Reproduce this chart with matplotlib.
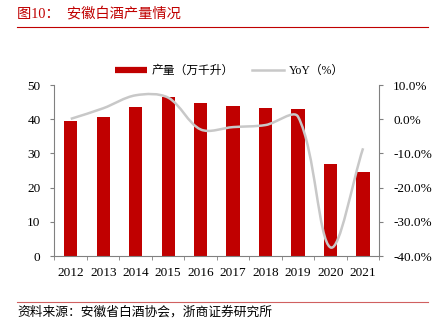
import matplotlib
matplotlib.use("Agg")
import matplotlib.pyplot as plt
from matplotlib.lines import Line2D
from matplotlib.path import Path
from matplotlib.patches import PathPatch
import numpy as np

years = ["2012", "2013", "2014", "2015", "2016", "2017", "2018", "2019", "2020", "2021"]
output = [39.5, 40.7, 43.6, 46.4, 44.8, 43.9, 43.2, 43.1, 26.9, 24.6]
yoy = [0.1, 3.2, 7.0, 6.3, -3.0, -2.3, -1.7, 0.7, -37.5, -8.5]

RED = "#C00000"
GRAY_LINE = "#C8C8C8"
SPINE = "#808080"
FONT = ["Liberation Serif", "Noto Sans CJK SC"]

plt.rcParams["font.family"] = FONT

fig = plt.figure(figsize=(4.37, 3.33), dpi=100)
ax = fig.add_axes([0.1247, 0.2312, 0.7433, 0.5135])
ax2 = ax.twinx()

x = np.arange(len(years))
ax.bar(x, output, width=0.41, color=RED, zorder=2)
ax.set_xlim(-0.5, len(years) - 0.5)
ax.set_ylim(0, 50)
ax.set_yticks(range(0, 51, 10))
ax.set_xticks(x)
ax.set_xticklabels(years)
ax.set_xticks(np.arange(-0.5, len(years), 1), minor=True)
ax.tick_params(axis="x", which="major", length=0, pad=8, labelsize=9.5)
ax.tick_params(axis="x", which="minor", length=3, color=SPINE, direction="out")
ax.tick_params(axis="y", length=3, color=SPINE, direction="out", pad=7, labelsize=9.5)
ax2.set_ylim(-40, 10)


def smooth_path(xs, ys, sx, sy, tension=1 / 3):
    """Excel-like smoothed line: Bezier control points scaled by segment lengths."""
    p = np.column_stack([xs, ys]).astype(float)
    scale = np.array([sx, sy])
    n = len(p)
    verts, codes = [p[0]], [Path.MOVETO]
    for i in range(n - 1):
        p0, p1, p2, p3 = p[max(i - 1, 0)], p[i], p[i + 1], p[min(i + 2, n - 1)]
        d01 = np.linalg.norm((p1 - p0) * scale)
        d12 = np.linalg.norm((p2 - p1) * scale)
        d23 = np.linalg.norm((p3 - p2) * scale)
        f1 = tension * d12 / (d01 + d12) if d01 + d12 > 0 else 0
        f2 = tension * d12 / (d12 + d23) if d12 + d23 > 0 else 0
        verts += [p1 + (p2 - p0) * f1, p2 - (p3 - p1) * f2, p2]
        codes += [Path.CURVE4] * 3
    return Path(verts, codes)


# pixels per data unit, used only to weight the smoothing like the original tool
px_x = 324.8 / len(years)
px_y = 171 / 50
ax2.add_patch(PathPatch(smooth_path(x, yoy, px_x, px_y), facecolor="none",
                        edgecolor=GRAY_LINE, linewidth=1.8, zorder=3))
ax2.set_yticks(range(-40, 11, 10))
ax2.set_yticklabels([f"{v:.1f}%" for v in range(-40, 11, 10)])
ax2.tick_params(axis="y", length=3, color=SPINE, direction="out", pad=7, labelsize=9.5)

for a in (ax, ax2):
    a.spines["top"].set_visible(False)
    for s in ("left", "right", "bottom"):
        a.spines[s].set_color(SPINE)
        a.spines[s].set_linewidth(0.8)
ax.spines["right"].set_visible(False)
ax2.spines["left"].set_visible(False)
ax2.spines["bottom"].set_visible(False)

handles = [Line2D([], [], color=RED, linewidth=4.5, solid_capstyle="butt"),
           Line2D([], [], color=GRAY_LINE, linewidth=1.8)]
fig.legend(handles, ["产量（万千升）", "YoY（%）"], loc="center",
           bbox_to_anchor=(0.525, 1 - 71 / 333), ncol=2, frameon=False,
           fontsize=8.5, handlelength=2.7, handletextpad=0.4, columnspacing=1.6)

fig.text(17 / 437, 1 - 13.5 / 333, "图10：  安徽白酒产量情况", color=RED,
         fontsize=10.3, va="center", ha="left")
fig.add_artist(Line2D([17 / 437, 428 / 437], [1 - 26.7 / 333] * 2,
                      color=RED, linewidth=0.8, transform=fig.transFigure))
fig.add_artist(Line2D([17 / 437, 428 / 437], [1 - 301.7 / 333] * 2,
                      color="#D06060", linewidth=0.8, transform=fig.transFigure))
fig.text(17 / 437, 1 - 312.7 / 333, "资料来源：安徽省白酒协会，浙商证券研究所",
         fontsize=9.2, va="center", ha="left")

fig.savefig("out.png", dpi=100)
